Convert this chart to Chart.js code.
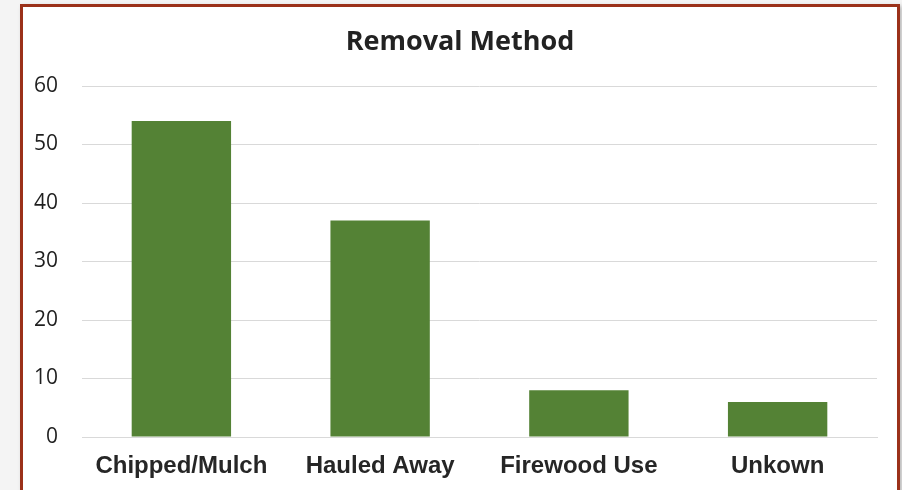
<!DOCTYPE html>
<html>
<head>
<meta charset="utf-8">
<script src="https://cdn.jsdelivr.net/npm/chart.js@4"></script>
<style>
  html, body { margin: 0; padding: 0; background: #f4f4f4; overflow: hidden; }
  #frame {
    position: absolute; left: 20px; top: 4px; width: 874px; height: 500px;
    border: 3px solid #9b3119; background: #ffffff;
    box-shadow: 2px 2px 4px rgba(0,0,0,0.25);
  }
  #wrap { position: absolute; left: 0; top: 0; width: 874px; height: 483px; }
</style>
</head>
<body>
<div id="frame"><div id="wrap"><canvas id="c"></canvas></div></div>
<script>
const categories = ["Chipped/Mulch", "Hauled Away", "Firewood Use", "Unkown"];
const values = [54, 37, 8, 6];
const yTicks = [0, 10, 20, 30, 40, 50, 60];
const chartTitle = "Removal Method";

new Chart(document.getElementById('c'), {
  type: 'bar',
  data: {
    labels: categories,
    datasets: [{
      data: values,
      backgroundColor: '#548235',
      borderWidth: 0,
      barPercentage: 0.5,
      categoryPercentage: 1.0
    }]
  },
  options: {
    responsive: true,
    maintainAspectRatio: false,
    animation: false,
    devicePixelRatio: 1,
    layout: { padding: { left: 0, right: 0, top: 0, bottom: 0 } },
    plugins: {
      legend: { display: false },
      tooltip: { enabled: false },
      title: {
        display: true,
        text: chartTitle,
        color: '#222222',
        font: { family: 'Open Sans', size: 27, weight: 'bold' },
        padding: { top: 19, bottom: 27.6 }
      }
    },
    scales: {
      x: {
        grid: { display: false, drawTicks: false },
        border: { display: true, color: '#d9d9d9', width: 1 },
        ticks: {
          color: '#262626',
          font: { family: 'Liberation Sans', size: 24, weight: 'bold' },
          padding: 15
        },
        afterFit: (s) => { s.height = 53; }
      },
      y: {
        min: 0, max: 60,
        afterBuildTicks: (s) => { s.ticks = yTicks.map(v => ({ value: v })); },
        grid: { color: '#d9d9d9', lineWidth: 1, drawTicks: false },
        border: { display: false },
        ticks: {
          color: '#1f1f1f',
          font: { family: 'Open Sans', size: 21 },
          padding: 24
        },
        afterFit: (s) => { s.width = 59; }
      },
      yRightSpace: {
        position: 'right',
        min: 0, max: 60,
        grid: { display: false, drawTicks: false },
        border: { display: false },
        ticks: { display: false },
        afterFit: (s) => { s.width = 20; }
      }
    }
  }
});
</script>
</body>
</html>
